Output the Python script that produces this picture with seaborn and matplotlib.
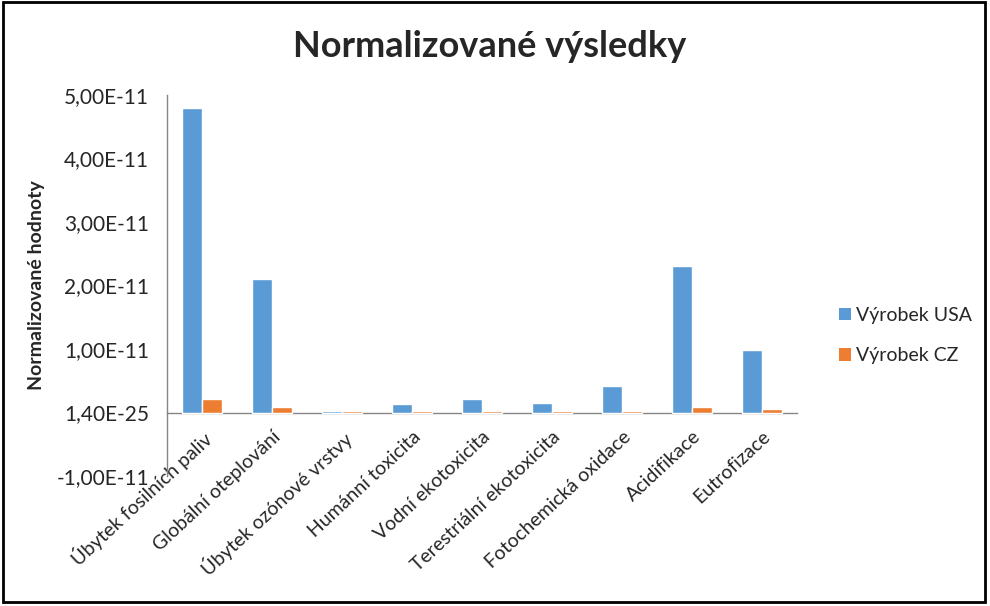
import pandas as pd
import matplotlib.pyplot as plt
import seaborn as sns
from matplotlib.patches import Rectangle, Patch

# Values
categories = ["Úbytek fosilních paliv", "Globální oteplování", "Úbytek ozónové vrstvy",
              "Humánní toxicita", "Vodní ekotoxicita", "Terestriální ekotoxicita",
              "Fotochemická oxidace", "Acidifikace", "Eutrofizace"]
usa = [4.80e-11, 2.11e-11, 0.2e-12, 1.3e-12, 2.2e-12, 1.45e-12, 4.25e-12, 2.30e-11, 0.99e-11]
cz = [2.15e-12, 0.9e-12, 0.2e-12, 0.2e-12, 0.2e-12, 0.2e-12, 0.2e-12, 0.8e-12, 0.5e-12]
series = ["Výrobek USA", "Výrobek CZ"]
colors = ["#5B9BD5", "#ED7D31"]
ytick_vals = [-1e-11, 0, 1e-11, 2e-11, 3e-11, 4e-11, 5e-11]
ytick_labels = ["-1,00E-11", "1,40E-25", "1,00E-11", "2,00E-11", "3,00E-11", "4,00E-11", "5,00E-11"]

df = pd.DataFrame({
    "kategorie": categories * 2,
    "hodnota": usa + cz,
    "serie": [series[0]] * len(categories) + [series[1]] * len(categories),
})

sns.set_style("white")
plt.rcParams['font.family'] = ['Lato', 'DejaVu Sans']

fig = plt.figure(figsize=(9.9, 6.06), dpi=100)
ax = fig.add_axes([0.1687, 0.2145, 0.6364, 0.6287])

sns.barplot(data=df, x="kategorie", y="hodnota", hue="serie", palette=colors,
            width=0.57, gap=0, saturation=1, ax=ax, legend=False, zorder=3)

ax.set_xlim(-0.5, len(categories) - 0.5)
ax.set_ylim(-1e-11, 5e-11)
ax.set_yticks(ytick_vals)
ax.set_yticklabels(ytick_labels, fontsize=15)
ax.tick_params(axis='y', length=5, color="#868686", pad=8)

# x axis crosses at zero, ticks between categories
ax.spines['bottom'].set_position(('data', 0))
for s in ['top', 'right']:
    ax.spines[s].set_visible(False)
for s in ['left', 'bottom']:
    ax.spines[s].set_color("#868686")
    ax.spines[s].set_linewidth(1)
ax.set_xticks(range(len(categories)))
ax.set_xticklabels(categories, rotation=43, ha='right', rotation_mode='anchor', fontsize=14)
ax.tick_params(axis='x', which='major', length=0, pad=11)
ax.set_xticks([i + 0.5 for i in range(len(categories))], minor=True)
ax.tick_params(axis='x', which='minor', length=5, color="#868686")

ax.set_xlabel("")
ax.set_ylabel("Normalizované hodnoty", fontsize=14, fontweight='bold')
ax.yaxis.set_label_coords(-0.194, 0.5)

fig.text(0.495, 0.923, "Normalizované výsledky", ha='center', va='center',
         fontsize=26, fontweight='bold')

handles = [Patch(facecolor=c, edgecolor='none') for c in colors]
fig.legend(handles, series, loc='center left', bbox_to_anchor=(0.83, 0.446),
           frameon=False, fontsize=14, handlelength=0.6, handleheight=0.6,
           handletextpad=0.25, labelspacing=1.2)

# black frame around chart
fig.patches.append(Rectangle((0.003, 0.006), 0.992, 0.99, transform=fig.transFigure,
                             fill=False, edgecolor='black', linewidth=2))

fig.savefig("out.png", dpi=100)
